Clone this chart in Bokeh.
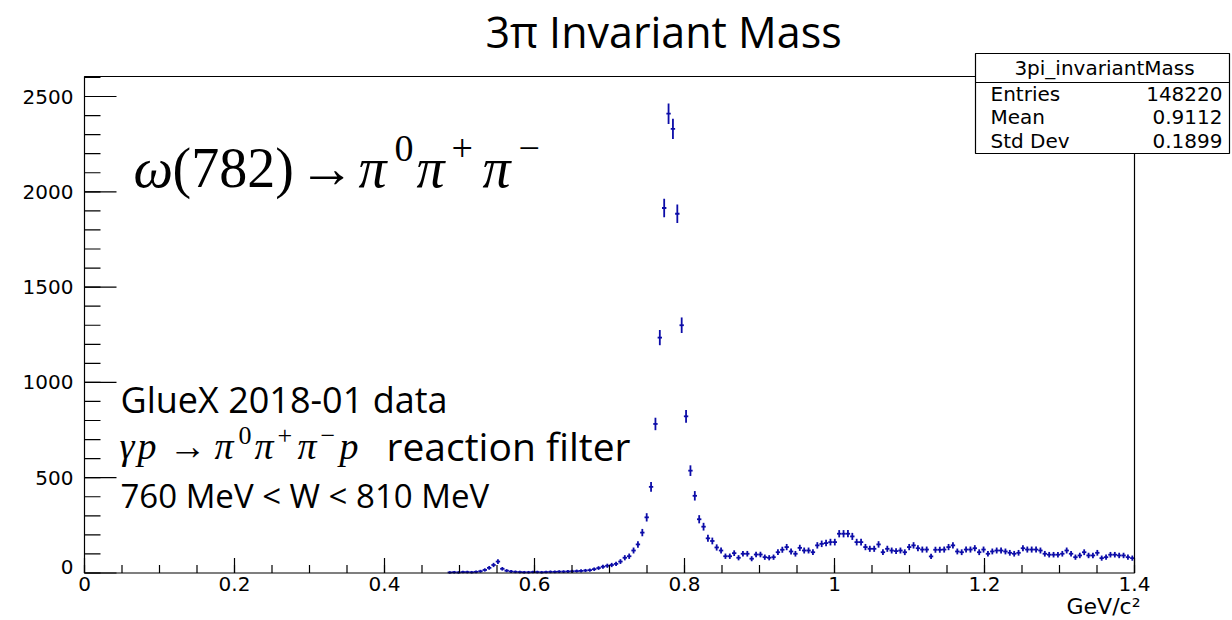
import numpy as np
from bokeh.plotting import figure
from bokeh.models import Range1d
from bokeh.core.properties import value
from bokeh.embed import file_html
from bokeh.resources import INLINE

# ---------------- data ----------------
n_bins = 240
x_min, x_max = 0.0, 1.4
y_max = 2605.0
first_bin = 83          # first non-empty bin
counts = [
    3, 4, 3, 5, 5, 4, 6, 9, 16, 27, 42, 60, 22, 12, 8, 6, 5, 4, 4, 5,
    5, 4, 5, 6, 6, 7, 7, 8, 9, 10, 11, 13, 15, 20, 26, 33, 38, 42, 48, 60,
    80, 88, 118, 150, 212, 292, 452, 782, 1235, 1915, 2410, 2330, 1885, 1300, 822, 537,
    405, 282, 243, 182, 168, 134, 118, 88, 88, 104, 80, 101, 101, 75, 97, 97,
    83, 80, 83, 109, 122, 136, 113, 101, 132, 118, 118, 109, 145, 153, 157, 162,
    162, 206, 206, 206, 192, 162, 162, 136, 127, 127, 150, 109, 127, 118, 115, 118,
    109, 136, 145, 130, 123, 123, 87, 122, 122, 123, 136, 145, 113, 109, 123, 123,
    130, 109, 123, 101, 113, 118, 118, 113, 106, 101, 106, 130, 123, 123, 123, 118,
    101, 96, 96, 96, 101, 118, 101, 83, 92, 109, 92, 92, 106, 78, 83, 96,
    96, 92, 92, 83, 78,
]
x_major = [0.0, 0.2, 0.4, 0.6, 0.8, 1.0, 1.2, 1.4]
x_major_labels = ["0", "0.2", "0.4", "0.6", "0.8", "1", "1.2", "1.4"]
x_minor_step = 0.05
y_major = [0, 500, 1000, 1500, 2000, 2500]
y_major_labels = ["0", "500", "1000", "1500", "2000", "2500"]
y_minor_step = 100
title_text = "3π Invariant Mass"
stats_name = "3pi_invariantMass"
stats_labels = ["Entries", "Mean", "Std Dev"]
stats_values = ["148220", "0.9112", "0.1899"]
x_unit = "GeV/c²"
info_line1 = "GlueX 2018-01 data"
info_line2 = "reaction filter"
info_line3 = "760 MeV < W < 810 MeV"

# ---------------- canvas geometry ----------------
W, H = 1232, 620
FL, FR, FT, FB = 84.0, 1134.0, 76.0, 572.5   # frame edges in canvas px


def X(px):
    return (px - FL) / (FR - FL) * (x_max - x_min) + x_min


def Y(py):
    return (FB - py) / (FB - FT) * y_max


def DX(px):
    return px / (FR - FL) * (x_max - x_min)


def DY(px):
    return px / (FB - FT) * y_max


BLUE = "#0c0ca8"

p = figure(width=W, height=H, x_range=Range1d(X(0), X(W)), y_range=Range1d(Y(H), Y(0)),
           output_backend="svg", toolbar_location=None, min_border=0)
p.axis.visible = False
p.grid.visible = False
p.outline_line_color = None
p.background_fill_color = "white"
p.border_fill_color = "white"

# ---------------- histogram (error-bar crosses) ----------------
bw = (x_max - x_min) / n_bins
idx = np.arange(first_bin, first_bin + len(counts))
centers = x_min + (idx + 0.5) * bw
c = np.array(counts, dtype=float)
err = np.sqrt(c)
p.segment(x0=centers, y0=c - err, x1=centers, y1=c + err, line_color=BLUE,
          line_width=1.8, line_cap="square")
p.segment(x0=centers - bw / 2, y0=c, x1=centers + bw / 2, y1=c, line_color=BLUE,
          line_width=1.8)

# ---------------- frame + ticks ----------------
p.quad(left=[x_min], right=[x_max], bottom=[0], top=[y_max], fill_color=None,
       line_color="black", line_width=1.2)

xmin_ticks = np.arange(x_min, x_max + 1e-9, x_minor_step)
p.segment(x0=xmin_ticks, y0=0, x1=xmin_ticks, y1=DY(8), line_color="black", line_width=1.2)
p.segment(x0=x_major, y0=0, x1=x_major, y1=DY(15), line_color="black", line_width=1.2)
ymin_ticks = np.arange(0, y_max, y_minor_step)
p.segment(x0=x_min, y0=ymin_ticks, x1=x_min + DX(16), y1=ymin_ticks, line_color="black", line_width=1.2)
p.segment(x0=x_min, y0=y_major, x1=x_min + DX(32), y1=y_major, line_color="black", line_width=1.2)

AX_FONT = value("DejaVu Sans")
p.text(x=x_major, y=[Y(576)] * len(x_major), text=x_major_labels, text_font=AX_FONT,
       text_font_size="20px", text_align="center", text_baseline="top", text_color="black")
ylab_y = [v if v > 0 else Y(566) for v in y_major]
p.text(x=[X(73)] * len(y_major), y=ylab_y, text=y_major_labels, text_font=AX_FONT,
       text_font_size="20px", text_align="right", text_baseline="middle", text_color="black")


def txt(text, px, py, size, font="DejaVu Sans", style="normal", align="left"):
    # py is the wanted baseline; correct for the renderer's baseline shift
    p.text(x=[X(px)], y=[Y(py - 0.4 * size)], text=[text], text_font=value(font),
           text_font_style=style, text_font_size=f"{size}px", text_align=align,
           text_baseline="alphabetic", text_color="black")


# x unit
txt(x_unit, 1140, 615, 22, align="right")

# title
txt(title_text, 663, 48, 43, font="Open Sans", align="center")

# ---------------- stats box ----------------
p.quad(left=[X(975)], right=[X(1229)], top=[Y(53)], bottom=[Y(153)],
       fill_color="white", line_color="black", line_width=1.2)
p.segment(x0=[X(975)], y0=[Y(82)], x1=[X(1229)], y1=[Y(82)], line_color="black", line_width=1.2)
txt(stats_name, 1104, 75, 20, align="center")
for i, (nm, vl) in enumerate(zip(stats_labels, stats_values)):
    base = 101 + i * 23.5
    txt(nm, 990, base, 20)
    txt(vl, 1222, base, 20, align="right")

# ---------------- omega formula ----------------
SERIF = "Liberation Serif"
b1 = 190
s1 = 56
ss1 = 38
r1 = 27
txt("ω", 133, b1, s1, SERIF, "italic")
txt("(782)", 172, b1, s1, SERIF)
txt("→", 298, b1, s1, SERIF)
txt("π", 358, b1, s1, SERIF, "italic")
txt("0", 394, b1 - r1, ss1, SERIF)
txt("π", 416, b1, s1, SERIF, "italic")
txt("+", 451, b1 - r1, ss1, SERIF)
txt("π", 482, b1, s1, SERIF, "italic")
txt("−", 518, b1 - r1, ss1, SERIF)

# ---------------- info text ----------------
txt(info_line1, 120, 413, 36, font="Open Sans")
b2 = 461
s2 = 38
ss2 = 26
r2 = 16
txt("γ", 119, b2, s2, SERIF, "italic")
txt("p", 137, b2, s2, SERIF, "italic")
txt("→", 168, b2, s2, SERIF)
txt("π", 214, b2, s2, SERIF, "italic")
txt("0", 238, b2 - r2, ss2, SERIF)
txt("π", 254, b2, s2, SERIF, "italic")
txt("+", 277, b2 - r2, ss2, SERIF)
txt("π", 297, b2, s2, SERIF, "italic")
txt("−", 320, b2 - r2, ss2, SERIF)
txt("p", 339, b2, s2, SERIF, "italic")
txt(info_line2, 386, b2, 39, font="Open Sans")
txt(info_line3, 120, 508, 33, font="Open Sans")

open("out.html", "w").write(file_html(p, INLINE))
